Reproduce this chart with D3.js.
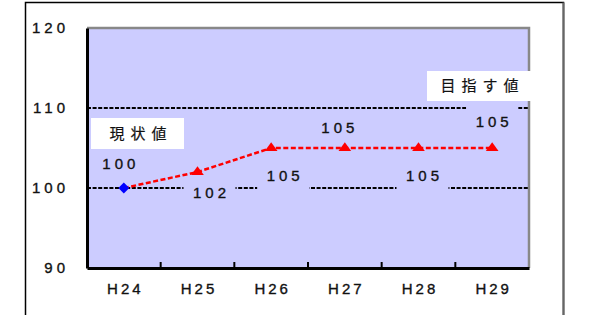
<!DOCTYPE html>
<html>
<head>
<meta charset="utf-8">
<script src="https://cdn.jsdelivr.net/npm/d3@7"></script>
<style>
  body { margin: 0; background: #fff; }
  text { font-family: "Liberation Sans", Arial, sans-serif; fill: #111; stroke: #111; stroke-width: 0.35px; }
  .jp { font-family: "Noto Sans CJK JP", sans-serif; stroke-width: 0.2px; }
</style>
</head>
<body>
<svg id="chart" width="592" height="315"></svg>
<script>
const categories = ["H24", "H25", "H26", "H27", "H28", "H29"]
const values = [100, 102, 105, 105, 105, 105]
const yTicks = [90, 100, 110, 120]
const refLines = [100, 110]
const currentLabel = "現状値"
const targetLabel = "目指す値"

// where each value label sits relative to its point (px)
const labelOffset = [[-5, -24], [12, 21], [12, 28], [-7, -20], [4, 28], [0, -26]]

const margin = { left: 87, top: 28, right: 63, bottom: 47 }
const width = 592, height = 315
const svg = d3.select("#chart")

const x = d3.scaleBand().domain(categories).range([margin.left, width - margin.right])
const y = d3.scaleLinear().domain([90, 120]).range([height - margin.bottom, margin.top])
const cx = d => x(d) + x.bandwidth() / 2

// outer frame
svg.append("path")
    .attr("d", `M25.5,${height} V2.5 H563.5 V${height}`)
    .attr("fill", "none")
    .attr("stroke", "#000")
    .attr("stroke-width", 1.5)
svg.append("line")
    .attr("x1", 563.5).attr("x2", 563.5).attr("y1", 2.5).attr("y2", height)
    .attr("stroke", "#666").attr("stroke-width", 2)

// plot area
svg.append("rect")
    .attr("x", margin.left).attr("y", margin.top)
    .attr("width", width - margin.left - margin.right)
    .attr("height", height - margin.top - margin.bottom)
    .attr("fill", "#ccccff")

svg.append("path")
    .attr("d", `M${margin.left},${margin.top} H${width - margin.right} V${height - margin.bottom}`)
    .attr("fill", "none")
    .attr("stroke", "#888")
    .attr("stroke-width", 2.5)

// reference lines
svg.selectAll(".ref")
    .data(refLines)
    .join("line")
    .attr("x1", margin.left).attr("x2", width - margin.right)
    .attr("y1", d => y(d)).attr("y2", d => y(d))
    .attr("stroke", "#000")
    .attr("stroke-width", 2)
    .attr("stroke-dasharray", "4,1.6")

// label backgrounds cut the dashed lines
svg.selectAll(".lblbg")
    .data(values)
    .join("rect")
    .attr("x", (d, i) => cx(categories[i]) + labelOffset[i][0] - 26)
    .attr("y", (d, i) => y(d) + labelOffset[i][1] - 15)
    .attr("width", 52)
    .attr("height", 30)
    .attr("fill", "#ccccff")
    .filter((d, i) => i === 0).remove()

// red dashed line
const line = d3.line().x((d, i) => cx(categories[i])).y(d => y(d))
svg.append("path")
    .datum(values)
    .attr("d", line)
    .attr("fill", "none")
    .attr("stroke", "#ff0000")
    .attr("stroke-width", 2.5)
    .attr("stroke-dasharray", "5,2.5")

svg.selectAll(".tri")
    .data(values.slice(1))
    .join("path")
    .attr("transform", (d, i) => `translate(${cx(categories[i + 1])},${y(d)}) scale(1,0.8)`)
    .attr("d", d3.symbol(d3.symbolTriangle, 70))
    .attr("fill", "#ff0000")

svg.append("path")
    .attr("transform", `translate(${cx(categories[0])},${y(values[0])}) rotate(45)`)
    .attr("d", d3.symbol(d3.symbolSquare, 60))
    .attr("fill", "#0000ff")

// value labels
svg.selectAll(".val")
    .data(values)
    .join("text")
    .attr("x", (d, i) => cx(categories[i]) + labelOffset[i][0] + 2)
    .attr("y", (d, i) => y(d) + labelOffset[i][1])
    .attr("dy", "0.36em")
    .attr("text-anchor", "middle")
    .attr("font-size", 15)
    .attr("letter-spacing", 4)
    .text(d => d)

// callout boxes
function callout(text, bx, by, bw, bh) {
    svg.append("rect")
        .attr("x", bx).attr("y", by).attr("width", bw).attr("height", bh)
        .attr("fill", "#fff")
    svg.append("text")
        .attr("class", "jp")
        .attr("x", bx + bw / 2 + 3.5)
        .attr("y", by + bh / 2)
        .attr("dy", "0.36em")
        .attr("text-anchor", "middle")
        .attr("font-size", 15)
        .attr("letter-spacing", 6)
        .text(text)
}
callout(currentLabel, 91, 118, 93, 31)
callout(targetLabel, 427, 71, 104, 30)

// axes
const yAxis = svg.append("g")
    .attr("transform", `translate(${margin.left},0)`)
    .call(d3.axisLeft(y).tickValues(yTicks).tickSize(0).tickPadding(18))
yAxis.select(".domain").attr("stroke", "#000").attr("stroke-width", 3)
yAxis.selectAll("text")
    .attr("font-size", 15)
    .attr("letter-spacing", 4)
    .attr("fill", "#111")

const xAxis = svg.append("g")
    .attr("transform", `translate(0,${height - margin.bottom})`)
    .call(d3.axisBottom(x).tickSize(0).tickPadding(15))
xAxis.select(".domain").attr("stroke", "#000").attr("stroke-width", 3)
xAxis.selectAll("text")
    .attr("font-size", 15)
    .attr("letter-spacing", 3)
    .attr("dx", 1.5)
    .attr("fill", "#111")

// category boundary ticks pointing up
svg.selectAll(".xtick")
    .data(categories.slice(1))
    .join("line")
    .attr("x1", d => x(d)).attr("x2", d => x(d))
    .attr("y1", height - margin.bottom).attr("y2", height - margin.bottom - 6)
    .attr("stroke", "#000")
    .attr("stroke-width", 2)
</script>
</body>
</html>
